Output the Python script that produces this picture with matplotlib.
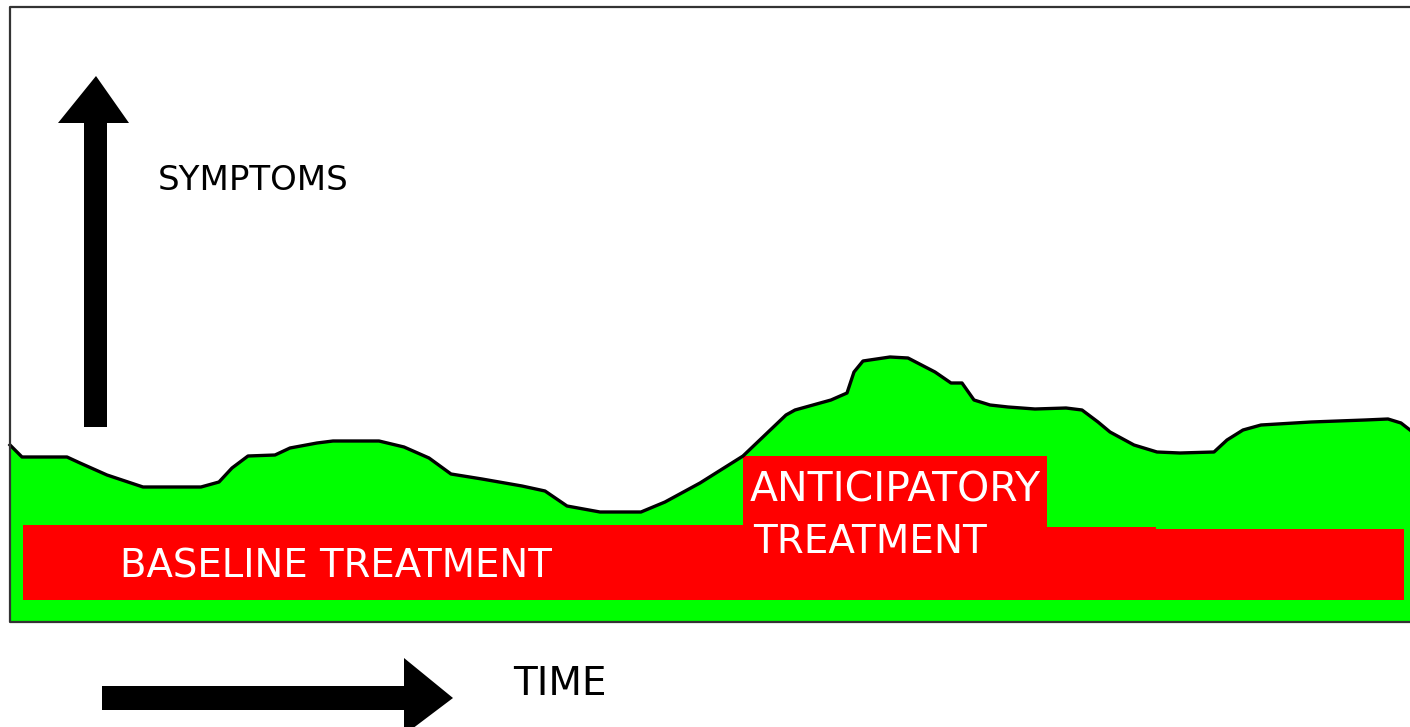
import matplotlib.pyplot as plt
from matplotlib.patches import Polygon, Rectangle

# symptom curve, in picture pixels (x to the right, y downwards)
curve_x = [10, 22, 67, 80, 107, 143, 201, 219, 232, 248, 275, 290, 317, 333, 379, 404,
           429, 451, 482, 522, 545, 567, 600, 641, 665, 700, 743, 786, 795, 831, 847,
           854, 863, 890, 908, 935, 951, 962, 974, 990, 1008, 1035, 1066, 1082, 1098,
           1110, 1134, 1157, 1180, 1214, 1227, 1243, 1261, 1311, 1365, 1388, 1401, 1410]
curve_y = [445, 457, 457, 463, 475, 487, 487, 482, 468, 456, 455, 448, 443, 441, 441, 447,
           458, 474, 479, 486, 491, 506, 512, 512, 502, 483, 456, 415, 410, 400, 393,
           372, 361, 357, 358, 372, 383, 383, 400, 405, 407, 409, 408, 410, 422,
           432, 445, 452, 453, 452, 440, 430, 425, 422, 420, 419, 423, 430]
floor_y = 622

# red treatment bands
baseline_x = [23, 1047, 1047, 1156, 1156, 1404, 1404, 23]
baseline_y = [525, 525, 527, 527, 529, 529, 600, 600]
antic_box = (743, 456, 304, 72)  # x, y, width, height

# axis arrows
up_arrow_x = [84, 84, 58, 96, 129, 107, 107]
up_arrow_y = [427, 123, 123, 76, 123, 123, 427]
right_arrow_x = [102, 404, 404, 453, 404, 404, 102]
right_arrow_y = [686, 686, 658, 698, 735, 710, 710]

fig = plt.figure(figsize=(14.1, 7.27), dpi=100)
ax = fig.add_axes([0, 0, 1, 1])
ax.set_xlim(0, 1410)
ax.set_ylim(727, 0)
ax.axis('off')

green = '#00ff00'
red = '#ff0000'

ax.fill_between(curve_x, curve_y, floor_y, color=green, lw=0, zorder=1)
ax.plot(curve_x, curve_y, color='black', lw=2.4, solid_joinstyle='round', zorder=4)

ax.add_patch(Polygon(list(zip(baseline_x, baseline_y)), closed=True,
                     facecolor=red, edgecolor='none', zorder=2))
ax.add_patch(Rectangle(antic_box[:2], antic_box[2], antic_box[3],
                       facecolor=red, edgecolor='none', zorder=3))

ax.add_patch(Polygon(list(zip(up_arrow_x, up_arrow_y)), closed=True,
                     facecolor='black', edgecolor='none', zorder=5))
ax.add_patch(Polygon(list(zip(right_arrow_x, right_arrow_y)), closed=True,
                     facecolor='black', edgecolor='none', zorder=5, clip_on=False))

# frame
ax.plot([1412, 10, 10, 1412], [7, 7, floor_y, floor_y], color='#333333', lw=1.6,
        zorder=6, clip_on=False)

ax.text(158, 181, 'SYMPTOMS', fontsize=24.5, color='black', va='center', ha='left', zorder=7)
ax.text(120, 567, 'BASELINE TREATMENT', fontsize=27.8, color='white', va='center', ha='left', zorder=7)
ax.text(750, 491, 'ANTICIPATORY', fontsize=29.5, color='white', va='center', ha='left', zorder=7)
ax.text(753, 542, 'TREATMENT', fontsize=28, color='white', va='center', ha='left', zorder=7)
ax.text(513, 684, 'TIME', fontsize=28, color='black', va='center', ha='left', zorder=7)

fig.savefig('out.png', dpi=100)
